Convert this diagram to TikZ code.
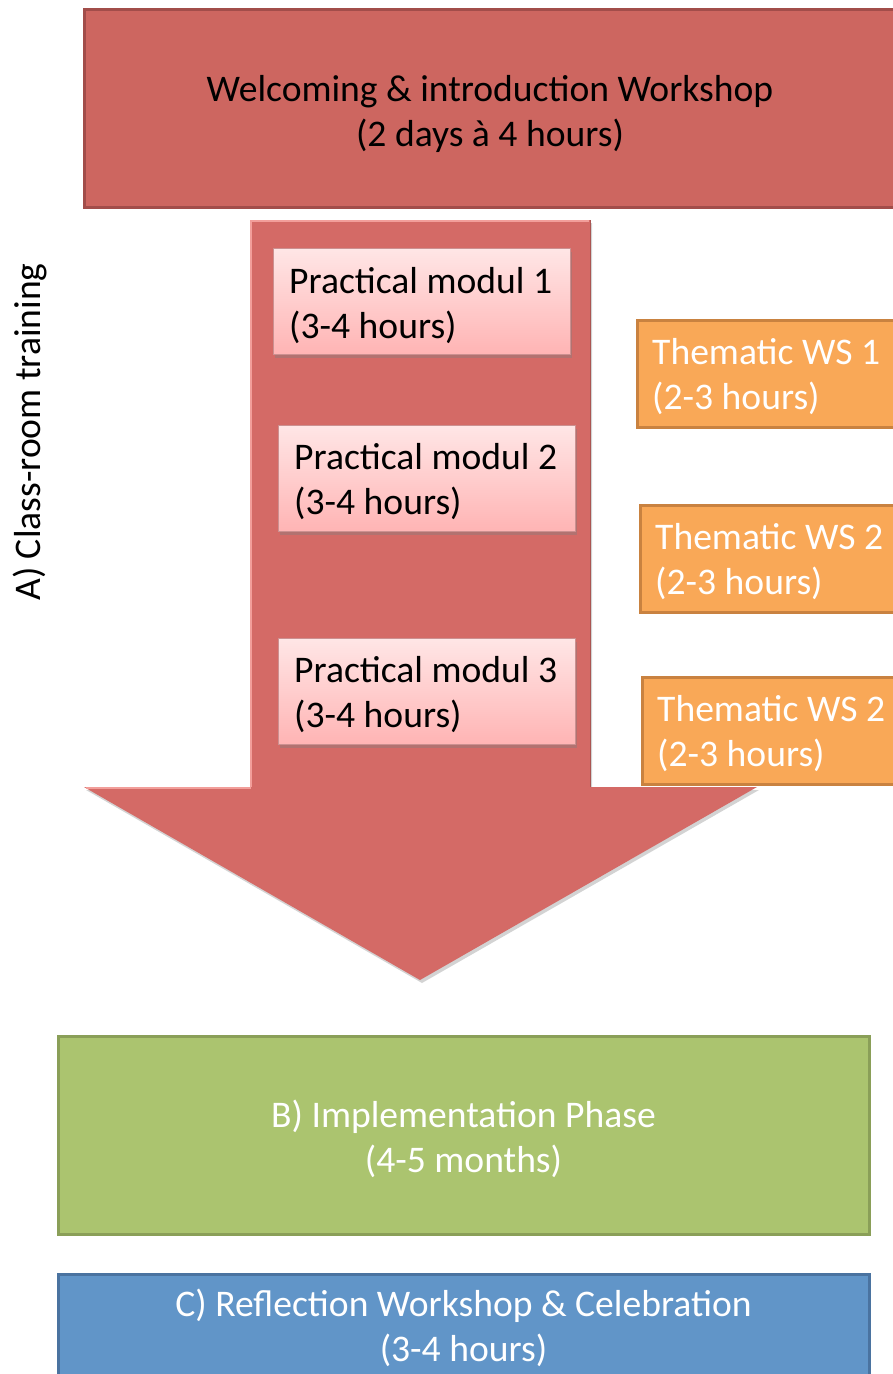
\documentclass[tikz,border=0pt]{standalone}
\usepackage{fontspec}
\setmainfont{Carlito}
\usetikzlibrary{shadows}
\definecolor{welcomefill}{HTML}{CD6660}
\definecolor{welcomeline}{HTML}{A24D4A}
\definecolor{arrowfill}{HTML}{D46A66}
\definecolor{arrowlight}{HTML}{F29E9A}
\definecolor{modtop}{HTML}{FFE6E6}
\definecolor{modbottom}{HTML}{FFB4B4}
\definecolor{wsfill}{HTML}{F9A857}
\definecolor{wsline}{HTML}{C98240}
\definecolor{implfill}{HTML}{ABC46F}
\definecolor{implline}{HTML}{8A9F58}
\definecolor{reflfill}{HTML}{6195C8}
\definecolor{reflline}{HTML}{4A73A0}
\tikzset{
  plainbox/.style={rectangle, line width=3pt, inner sep=0pt},
  modulbox/.style={rectangle, top color=modtop, bottom color=modbottom,
    draw=modbottom!80!black, line width=0.6pt, inner sep=0pt,
    minimum width=297pt, minimum height=106pt, anchor=north west,
    drop shadow={opacity=0.4, shadow xshift=2pt, shadow yshift=-4pt}},
  wsbox/.style={rectangle, fill=wsfill, draw=wsline, line width=2.5pt,
    inner sep=0pt, minimum width=280pt, minimum height=107pt,
    anchor=north west},
  lefttext/.style={anchor=west, align=left, inner sep=0pt},
  midtext/.style={align=center, inner sep=0pt},
}
\begin{document}
\begin{tikzpicture}[x=1pt, y=-1pt, font=\fontsize{37.6}{45}\selectfont]
\useasboundingbox (0,0) rectangle (893,1374);
\clip (0,0) rectangle (893,1374);

% opening workshop
\node (welcome) [plainbox, fill=welcomefill, draw=welcomeline,
  minimum width=812pt, minimum height=198pt] at (490,108.5) {};
\node (welcometext) [midtext] at ([yshift=-5pt]welcome.center)
  {Welcoming \& introduction Workshop\\(2 days à 4 hours)};

% class-room training arrow
\path[fill=arrowfill, drop shadow={opacity=0.35, shadow xshift=2pt, shadow yshift=-3pt}]
  (250,220) -- (590,220) -- (590,787) -- (757,787) -- (420,980)
  -- (84,787) -- (250,787) -- cycle;
\draw[arrowlight, line width=2pt, line join=miter]
  (251,787) -- (251,221) -- (589,221);
\draw[arrowlight, line width=2pt] (86,788) -- (251,788);
\draw[arrowfill!80!black, line width=1pt] (590,220) -- (590,787);

% practical modules inside the arrow
\node (m1) [modulbox] at (273,248) {};
\node (m1text) [lefttext] at ([xshift=16pt, yshift=-4pt]m1.west)
  {Practical modul 1\\(3-4 hours)};
\node (m2) [modulbox] at (278,425) {};
\node (m2text) [lefttext] at ([xshift=16pt, yshift=-3pt]m2.west)
  {Practical modul 2\\(3-4 hours)};
\node (m3) [modulbox] at (278,638) {};
\node (m3text) [lefttext] at ([xshift=16pt, yshift=-3pt]m3.west)
  {Practical modul 3\\(3-4 hours)};

% thematic workshops
\node (ws1) [wsbox] at (636,319) {};
\node (ws1text) [lefttext, text=white] at ([xshift=16pt, yshift=-3pt]ws1.west)
  {Thematic WS 1\\(2-3 hours)};
\node (ws2) [wsbox] at (639,504) {};
\node (ws2text) [lefttext, text=white] at ([xshift=16pt, yshift=-3pt]ws2.west)
  {Thematic WS 2\\(2-3 hours)};
\node (ws3) [wsbox] at (641,676) {};
\node (ws3text) [lefttext, text=white] at ([xshift=16pt, yshift=-3pt]ws3.west)
  {Thematic WS 2\\(2-3 hours)};

% side label
\node (phaseA) [rotate=90] at (30,432) {A) Class-room training};

% implementation and reflection
\node (impl) [plainbox, fill=implfill, draw=implline,
  minimum width=811pt, minimum height=198pt] at (463.5,1135) {};
\node (impltext) [midtext, text=white] at ([yshift=-3.5pt]impl.center)
  {B) Implementation Phase\\(4-5 months)};
\node (refl) [plainbox, fill=reflfill, draw=reflline,
  minimum width=811pt, minimum height=190pt, anchor=north] at (463.5,1273) {};
\node (refltext) [midtext, text=white, anchor=north] at (463.5,1288.5)
  {C) Reflection Workshop \& Celebration\\(3-4 hours)};
\end{tikzpicture}
\end{document}
